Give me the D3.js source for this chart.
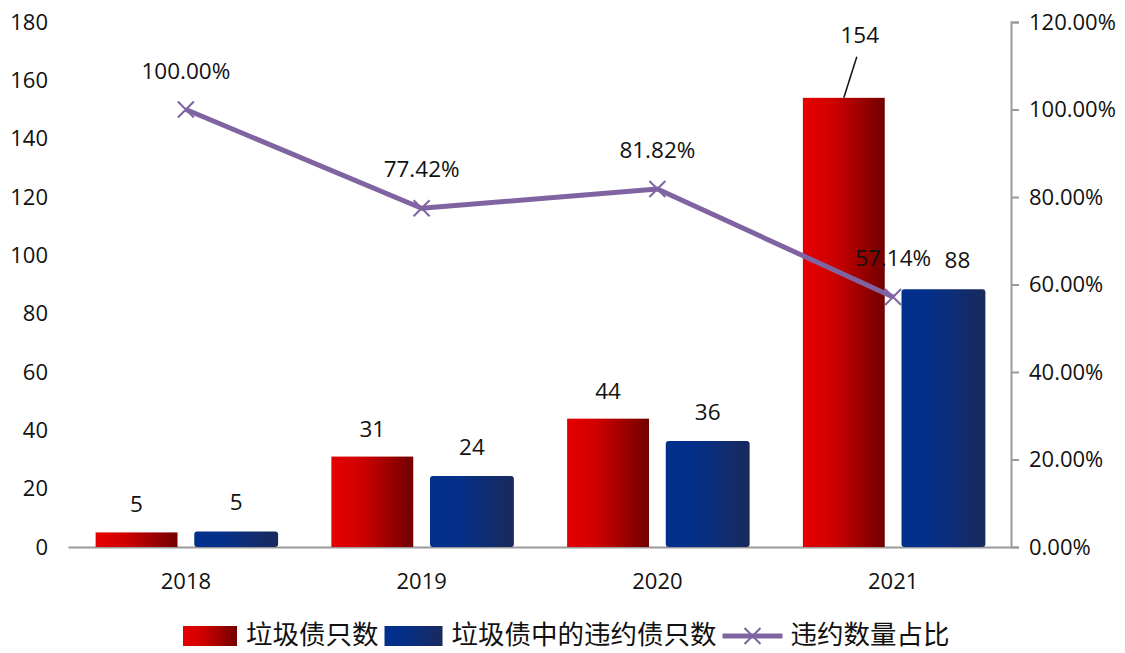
<!DOCTYPE html>
<meta charset="utf-8">
<title>垃圾债违约</title>
<style>
  html, body { margin: 0; background: #fff; }
  svg { display: block; }
  .tick text, .lbl { font-family: 'Open Sans', 'Liberation Sans', sans-serif; font-size: 22.5px; fill: #111; }
  .legend text { font-family: 'Noto Sans CJK SC', sans-serif; font-size: 26.5px; fill: #111; }
</style>
<body>
<script src="https://d3js.org/d3.v7.min.js"></script>
<script>

// data
var years = ["2018", "2019", "2020", "2021"];
var junkCount = [5, 31, 44, 154];        // 垃圾债只数
var defaultCount = [5, 24, 36, 88];      // 垃圾债中的违约债只数
var defaultRatio = [1.0, 0.7742, 0.8182, 0.5714]; // 违约数量占比
var leftTicks = [0, 20, 40, 60, 80, 100, 120, 140, 160, 180];
var rightTicks = [0, 0.2, 0.4, 0.6, 0.8, 1.0, 1.2];
var legendNames = ["垃圾债只数", "垃圾债中的违约债只数", "违约数量占比"];

var W = 1125, H = 653;
var margin = {top: 22, right: 114, bottom: 106, left: 68},
    width = W - margin.left - margin.right,
    height = H - margin.top - margin.bottom;

var svg = d3.select("body").append("svg")
    .attr("width", W)
    .attr("height", H);

// gradients for the bars
var defs = svg.append("defs");
function grad(id, c0, c1, c2) {
  var g = defs.append("linearGradient").attr("id", id)
      .attr("x1", "0%").attr("x2", "100%").attr("y1", "0%").attr("y2", "0%");
  g.append("stop").attr("offset", "0%").attr("stop-color", c0);
  g.append("stop").attr("offset", "35%").attr("stop-color", c1);
  g.append("stop").attr("offset", "100%").attr("stop-color", c2);
}
grad("gRed", "#e60000", "#d00000", "#720000");
grad("gBlue", "#00308c", "#052f88", "#192a5c");

var g = svg.append("g")
    .attr("transform", "translate(" + margin.left + "," + margin.top + ")");

// scales
var x0 = d3.scaleBand().domain(years).range([0, width]).padding(0);
var x1 = d3.scaleBand().domain(["junk", "default"]).range([0, x0.bandwidth()])
    .paddingInner(0.17).paddingOuter(0.28);
var y = d3.scaleLinear().domain([0, 180]).range([height, 0]);
var y2 = d3.scaleLinear().domain([0, 1.2]).range([height, 0]);

// left axis (labels only)
var yAxis = g.append("g")
    .call(d3.axisLeft(y).tickValues(leftTicks).tickSize(0).tickPadding(20));
yAxis.select(".domain").remove();

// right axis
var yAxis2 = g.append("g")
    .attr("transform", "translate(" + width + ",0)")
    .call(d3.axisRight(y2).tickValues(rightTicks).tickSize(8).tickSizeOuter(8).tickPadding(10)
      .tickFormat(function(d) { return (d * 100).toFixed(2) + "%"; }));
yAxis2.select(".domain").attr("stroke", "#9a9a9a").attr("stroke-width", 2);
yAxis2.selectAll(".tick line").attr("stroke", "#9a9a9a").attr("stroke-width", 2);

// x axis
var xAxis = g.append("g")
    .attr("transform", "translate(0," + height + ")")
    .call(d3.axisBottom(x0).tickSize(0).tickPadding(26));
xAxis.select(".domain").attr("stroke", "#9a9a9a").attr("stroke-width", 2);

// bars
g.selectAll(".bar-junk").data(junkCount).enter().append("rect")
    .attr("class", "bar-junk")
    .attr("x", function(d, i) { return x0(years[i]) + x1("junk"); })
    .attr("y", function(d) { return y(d); })
    .attr("width", x1.bandwidth())
    .attr("height", function(d) { return height - y(d); })
    .attr("fill", "url(#gRed)");

g.selectAll(".bar-def").data(defaultCount).enter().append("rect")
    .attr("class", "bar-def")
    .attr("x", function(d, i) { return x0(years[i]) + x1("default"); })
    .attr("y", function(d) { return y(d) - 1; })
    .attr("width", x1.bandwidth() + 2)
    .attr("height", function(d) { return height - y(d) + 1; })
    .attr("rx", 3)
    .attr("fill", "url(#gBlue)");

// ratio line
var line = d3.line()
    .x(function(d, i) { return x0(years[i]) + x0.bandwidth() / 2; })
    .y(function(d) { return y2(d); });

g.append("path")
    .datum(defaultRatio)
    .attr("fill", "none")
    .attr("stroke", "#8064a2")
    .attr("stroke-width", 5)
    .attr("stroke-linejoin", "round")
    .attr("d", line);

var m = 8;
g.selectAll(".mark").data(defaultRatio).enter().append("path")
    .attr("class", "mark")
    .attr("transform", function(d, i) {
      return "translate(" + (x0(years[i]) + x0.bandwidth() / 2) + "," + y2(d) + ")";
    })
    .attr("d", "M" + -m + "," + -m + "L" + m + "," + m + "M" + -m + "," + m + "L" + m + "," + -m)
    .attr("stroke", "#8064a2")
    .attr("stroke-width", 2);

// bar value labels
g.selectAll(".lbl-junk").data(junkCount).enter().append("text")
    .attr("class", "lbl")
    .attr("text-anchor", "middle")
    .attr("x", function(d, i) {
      var cx = x0(years[i]) + x1("junk") + x1.bandwidth() / 2;
      return d > 150 ? cx + 16 : cx;
    })
    .attr("y", function(d) { return d > 150 ? y(180) + 21 : y(d) - 20; })
    .text(function(d) { return d; });

// leader line for the tall bar label
junkCount.forEach(function(d, i) {
  if (d > 150) {
    var cx = x0(years[i]) + x1("junk") + x1.bandwidth() / 2;
    g.append("line")
        .attr("x1", cx).attr("y1", y(d))
        .attr("x2", cx + 13).attr("y2", y(d) - 41)
        .attr("stroke", "#111").attr("stroke-width", 1.5);
  }
});

// last label was nudged right in the original so it clears the ratio label
g.selectAll(".lbl-def").data(defaultCount).enter().append("text")
    .attr("class", "lbl")
    .attr("text-anchor", "middle")
    .attr("x", function(d, i) {
      var cx = x0(years[i]) + x1("default") + x1.bandwidth() / 2 + 1;
      return i === defaultCount.length - 1 ? cx + 14 : cx;
    })
    .attr("y", function(d) { return y(d) - 22; })
    .text(function(d) { return d; });

// ratio labels
g.selectAll(".lbl-ratio").data(defaultRatio).enter().append("text")
    .attr("class", "lbl")
    .attr("text-anchor", "middle")
    .attr("x", function(d, i) { return x0(years[i]) + x0.bandwidth() / 2; })
    .attr("y", function(d) { return y2(d) - 31; })
    .text(function(d) { return (d * 100).toFixed(2) + "%"; });

g.selectAll(".tick text").attr("class", null)
    .style("font-family", "'Open Sans', 'Liberation Sans', sans-serif")
    .style("font-size", "22px").attr("fill", "#111");

// legend
var legend = svg.append("g").attr("class", "legend");
var lx = 183, ly = 636;
legendNames.forEach(function(name, i) {
  if (i < 2) {
    legend.append("rect")
        .attr("x", lx).attr("y", ly - 10)
        .attr("width", i === 0 ? 54 : 58).attr("height", 20)
        .attr("fill", i === 0 ? "url(#gRed)" : "url(#gBlue)");
    lx += i === 0 ? 63 : 67;
  } else {
    legend.append("line")
        .attr("x1", lx).attr("x2", lx + 60).attr("y1", ly).attr("y2", ly)
        .attr("stroke", "#8064a2").attr("stroke-width", 5);
    legend.append("path")
        .attr("transform", "translate(" + (lx + 30) + "," + ly + ")")
        .attr("d", "M-8,-8L8,8M-8,8L8,-8")
        .attr("stroke", "#8064a2").attr("stroke-width", 2);
    lx += 68;
  }
  var t = legend.append("text")
      .attr("x", lx).attr("y", ly + 8)
      .text(name);
  lx += t.node().getComputedTextLength() + 6;
});

</script>
</body>
